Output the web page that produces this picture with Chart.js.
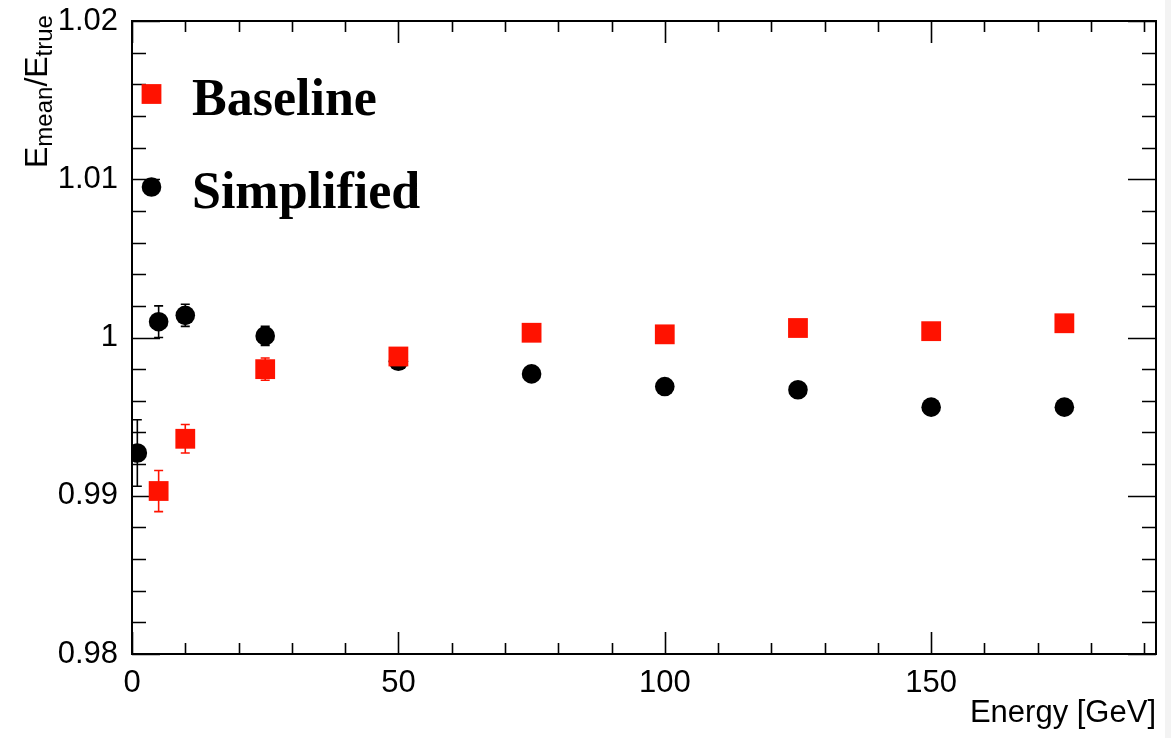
<!DOCTYPE html>
<html>
<head>
<meta charset="utf-8">
<title>Energy linearity</title>
<script src="https://cdn.jsdelivr.net/npm/chart.js@4.4.0/dist/chart.umd.min.js"></script>
<style>
  html, body { margin: 0; padding: 0; background: #fff; }
  #wrap { width: 1171px; height: 738px; }
</style>
</head>
<body>
<div id="wrap"><canvas id="linearity" width="1171" height="738"></canvas></div>
<script>
// Beam energies (GeV) with mean reconstructed / true energy and its error
const energyBaseline = [5, 10, 25, 50, 75, 100, 125, 150, 175];
const ratioBaseline = [0.9903, 0.9936, 0.9980, 0.9988, 1.0003, 1.0002, 1.0006, 1.0004, 1.0009];
const errBaseline = [0.0013, 0.0009, 0.0007, 0.0003, 0.0003, 0.0003, 0.0003, 0.0003, 0.0003];

const energySimplified = [1, 5, 10, 25, 50, 75, 100, 125, 150, 175];
const ratioSimplified = [0.9927, 1.0010, 1.0014, 1.0001, 0.9985, 0.9977, 0.9969, 0.9967, 0.9956, 0.9956];
const errSimplified = [0.0021, 0.0010, 0.0007, 0.0006, 0.0003, 0.0003, 0.0003, 0.0003, 0.0003, 0.0003];

const xTicks = [0, 50, 100, 150];
const xTickLabels = ['0', '50', '100', '150'];
const yTicks = [0.98, 0.99, 1.0, 1.01, 1.02];
const yTickLabels = ['0.98', '0.99', '1', '1.01', '1.02'];

const RED = '#ff1200';
const SANS = '"Liberation Sans", Arial, sans-serif';
const SERIF = '"Liberation Serif", "Times New Roman", serif';

function points(xs, ys) {
  return xs.map((x, i) => ({ x: x, y: ys[i] }));
}

// ROOT-style frame with inward ticks on all four sides
const framePlugin = {
  id: 'frame',
  beforeDraw(chart) {
    const c = chart.ctx;
    c.save();
    c.fillStyle = '#f3f3f3';
    c.fillRect(1165, 0, 6, chart.height);
    c.restore();
  },
  beforeDatasetsDraw(chart) {
    const { ctx: c, chartArea: a, scales } = chart;
    const xs = scales.x, ys = scales.y;
    c.save();
    c.strokeStyle = '#000';
    c.lineWidth = 1.6;
    c.beginPath();
    for (let v = 0; v <= xs.max; v += 10) {
      const px = Math.round(xs.getPixelForValue(v)) + 0.5;
      const len = v % 50 === 0 ? 22 : 11;
      c.moveTo(px, a.bottom); c.lineTo(px, a.bottom - len);
      c.moveTo(px, a.top); c.lineTo(px, a.top + len);
    }
    for (let k = 0; k <= 20; k++) {
      const v = ys.min + k * 0.002;
      const py = Math.round(ys.getPixelForValue(v)) + 0.5;
      const len = k % 5 === 0 ? 28 : 14;
      c.moveTo(a.left, py); c.lineTo(a.left + len, py);
      c.moveTo(a.right, py); c.lineTo(a.right - len, py);
    }
    c.stroke();
    c.lineWidth = 2;
    c.strokeRect(a.left, a.top, a.right - a.left, a.bottom - a.top);
    c.restore();
  }
};

// vertical error bars with small end caps, under the markers
const errorBarPlugin = {
  id: 'errorBars',
  beforeDatasetsDraw(chart) {
    const { ctx: c, scales } = chart;
    chart.data.datasets.forEach(ds => {
      c.save();
      c.strokeStyle = ds.backgroundColor;
      c.lineWidth = 1.6;
      c.beginPath();
      ds.data.forEach((p, i) => {
        const e = ds.errors[i];
        const px = scales.x.getPixelForValue(p.x);
        const y1 = scales.y.getPixelForValue(p.y + e);
        const y2 = scales.y.getPixelForValue(p.y - e);
        c.moveTo(px, y1); c.lineTo(px, y2);
        c.moveTo(px - 4.5, y1); c.lineTo(px + 4.5, y1);
        c.moveTo(px - 4.5, y2); c.lineTo(px + 4.5, y2);
      });
      c.stroke();
      c.restore();
    });
  }
};

// legend in the top-left corner of the frame, plus the y axis title
const legendPlugin = {
  id: 'rootLegend',
  afterDraw(chart) {
    const c = chart.ctx;
    c.save();
    chart.data.datasets.forEach((ds, i) => {
      const y = 94 + i * 93;
      c.fillStyle = ds.backgroundColor;
      Chart.helpers.drawPoint(c, {
        pointStyle: ds.pointStyle, radius: ds.pointRadius, rotation: 0, borderWidth: 0
      }, 151.5, y);
      c.fillStyle = '#000';
      c.font = 'bold 52px ' + SERIF;
      c.textBaseline = 'alphabetic';
      c.textAlign = 'left';
      c.fillText(ds.label, 192, y + 21);
    });

    // E_mean / E_true, rotated
    c.translate(47, 168);
    c.rotate(-Math.PI / 2);
    c.fillStyle = '#000';
    c.textBaseline = 'alphabetic';
    let x = 0;
    const part = (txt, size, drop) => {
      c.font = size + 'px ' + SANS;
      c.fillText(txt, x, drop);
      x += c.measureText(txt).width;
    };
    part('E', 32, 0);
    part('mean', 24, 5);
    part('/E', 32, 0);
    part('true', 24, 5);
    c.restore();
  }
};

// keep the frame where the layout padding puts it
function noLabelOverflow(s) {
  s.paddingTop = 0;
  s.paddingBottom = 0;
  s.paddingLeft = 0;
  s.paddingRight = 0;
}

const ctx = document.getElementById('linearity').getContext('2d');
new Chart(ctx, {
  type: 'scatter',
  data: {
    datasets: [
      {
        label: 'Baseline',
        data: points(energyBaseline, ratioBaseline),
        errors: errBaseline,
        pointStyle: 'rect',
        pointRadius: 14,
        backgroundColor: RED,
        borderWidth: 0
      },
      {
        label: 'Simplified',
        data: points(energySimplified, ratioSimplified),
        errors: errSimplified,
        pointStyle: 'circle',
        pointRadius: 9.8,
        backgroundColor: '#000',
        borderWidth: 0
      }
    ]
  },
  options: {
    responsive: false,
    animation: false,
    events: [],
    layout: { padding: { top: 21, right: 15, left: 0, bottom: 0 } },
    plugins: {
      legend: { display: false },
      tooltip: { enabled: false }
    },
    scales: {
      x: {
        type: 'linear',
        min: 0,
        max: 192.2,
        afterBuildTicks: s => { s.ticks = xTicks.map(v => ({ value: v })); },
        afterFit: s => { s.height = 84; noLabelOverflow(s); },
        ticks: {
          callback: (v, i) => xTickLabels[i],
          font: { family: SANS, size: 31 },
          color: '#000',
          padding: 11,
          maxRotation: 0,
          autoSkip: false
        },
        grid: { display: false, drawTicks: false },
        border: { display: false },
        title: {
          display: true,
          text: 'Energy [GeV]',
          align: 'end',
          color: '#000',
          font: { family: SANS, size: 31, lineHeight: 1.2 },
          padding: { top: 0, bottom: 6 }
        }
      },
      y: {
        type: 'linear',
        min: 0.98,
        max: 1.02,
        afterBuildTicks: s => { s.ticks = yTicks.map(v => ({ value: v })); },
        afterFit: s => { s.width = 132; noLabelOverflow(s); },
        ticks: {
          callback: (v, i) => yTickLabels[i],
          font: { family: SANS, size: 31 },
          color: '#000',
          padding: 14,
          autoSkip: false
        },
        grid: { display: false, drawTicks: false },
        border: { display: false }
      }
    }
  },
  plugins: [framePlugin, errorBarPlugin, legendPlugin]
});
</script>
</body>
</html>
